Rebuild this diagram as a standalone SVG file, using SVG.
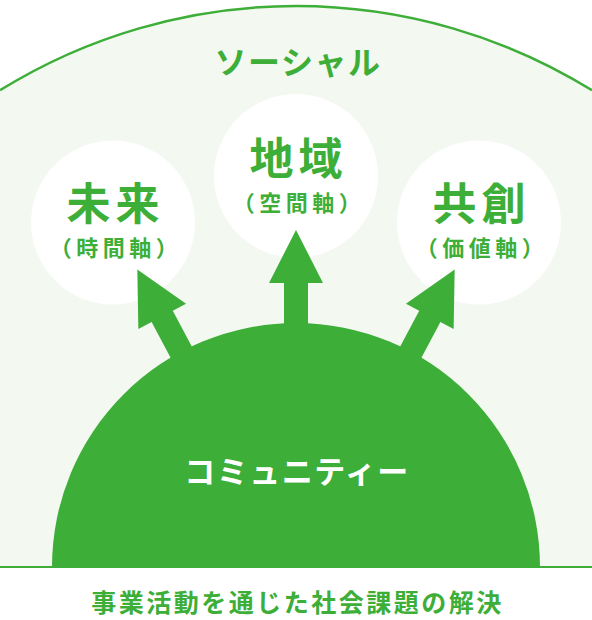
<svg xmlns="http://www.w3.org/2000/svg" width="592" height="620" viewBox="0 0 592 620">
  <defs>
    <style>
      .t { font-family: "Noto Sans CJK JP", "Noto Sans", sans-serif; font-weight: 700; text-anchor: middle; }
      .g { fill: #3dae37; }
      .title { font-size: 44px; letter-spacing: 5px; }
      .sub { font-size: 22px; letter-spacing: 4.5px; }
      .bubble { fill: #ffffff; }
      .arrow { fill: #3dae37; }
    </style>
    <path id="arrowUp" d="M296,230 L323,283 L308,283 L308,420 L284,420 L284,283 L269,283 Z"/>
  </defs>
  <rect width="592" height="620" fill="#ffffff"/>
  <g id="social">
    <path d="M0,567 L0,90.3 A562,562 0 0 1 592,90.3 L592,567 Z" fill="#f3f8f1"/>
    <path d="M0,90.3 A562,562 0 0 1 592,90.3" fill="none" stroke="#3dae37" stroke-width="2.5"/>
    <line x1="0" y1="567" x2="592" y2="567" stroke="#3dae37" stroke-width="2"/>
    <text class="t g" x="298" y="74" font-size="32" letter-spacing="1.5">ソーシャル</text>
  </g>
  <g id="node-future">
    <circle class="bubble" cx="113" cy="222.5" r="82"/>
    <text class="t g title" x="115.5" y="220">未来</text>
    <text class="t g sub" x="116" y="256">（時間軸）</text>
  </g>
  <g id="node-region">
    <circle class="bubble" cx="296" cy="176" r="82"/>
    <text class="t g title" x="298.5" y="175">地域</text>
    <text class="t g sub" x="299" y="211">（空間軸）</text>
  </g>
  <g id="node-cocreation">
    <circle class="bubble" cx="479" cy="222.5" r="82"/>
    <text class="t g title" x="481.5" y="220">共創</text>
    <text class="t g sub" x="482" y="256">（価値軸）</text>
  </g>
  <g id="connectors">
    <use href="#arrowUp" class="arrow" transform="rotate(-28 296 568)"/>
    <use href="#arrowUp" class="arrow"/>
    <use href="#arrowUp" class="arrow" transform="rotate(28 296 568)"/>
  </g>
  <g id="node-community">
    <path d="M52,567 A244,244 0 0 1 540,567 Z" fill="#3dae37"/>
    <text class="t" x="297" y="483" font-size="31" letter-spacing="1.5" fill="#ffffff">コミュニティー</text>
  </g>
  <g id="caption">
    <text class="t g" x="297.5" y="612" font-size="25" letter-spacing="2.5">事業活動を通じた社会課題の解決</text>
  </g>
</svg>
